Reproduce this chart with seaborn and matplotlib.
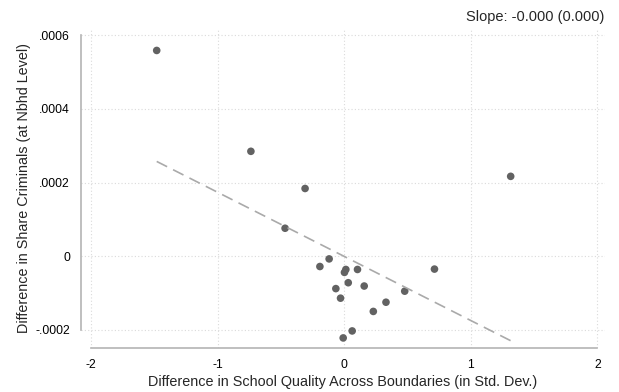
import matplotlib
matplotlib.use("Agg")
import matplotlib.pyplot as plt
from matplotlib.ticker import FuncFormatter
import numpy as np
import pandas as pd
import seaborn as sns

### data (binned differences across boundaries)
school_diff = [-1.481, -0.737, -0.309, -0.467, 1.315, -0.119, -0.192, 0.013,
               0.002, 0.105, 0.713, 0.032, -0.066, 0.158, -0.029, 0.478,
               0.330, 0.230, 0.063, -0.008]
crime_diff = [0.000559, 0.000285, 0.000184, 0.000076, 0.000217, -0.0000073,
              -0.000028, -0.000036, -0.000044, -0.000036, -0.000035, -0.000072,
              -0.000088, -0.000081, -0.000114, -0.000095, -0.000125, -0.000150,
              -0.000203, -0.000222]
x_ticks = [-2, -1, 0, 1, 2]
y_ticks = [-0.0002, 0, 0.0002, 0.0004, 0.0006]
slope_text = "Slope: -0.000 (0.000)"

df = pd.DataFrame({"school": school_diff, "crime": crime_diff})

sns.set_style("white")
plt.rcParams["font.family"] = ["Liberation Sans", "DejaVu Sans"]

fig = plt.figure(figsize=(6.19, 3.92), dpi=100)
ax = fig.add_axes([81 / 619, 1 - 347.5 / 392, (605 - 81) / 619, (347.5 - 28) / 392])

sns.regplot(data=df, x="school", y="crime", ax=ax, ci=None,
            scatter_kws=dict(s=30, color="#626262", edgecolors="none", alpha=1),
            line_kws=dict(color="#aaaaaa", lw=1.2, dashes=(7, 4)))

ax.set_xlim(-2.079, 2.06)
ax.set_ylim(-0.000248, 0.00062)
ax.set_xticks(x_ticks)
ax.set_yticks(y_ticks)

# stata style labels: plain hyphen, no leading zero
def yfmt(v, pos):
    if abs(v) < 1e-12:
        return "0"
    return f"{v:.4f}".replace("0.", ".")

ax.yaxis.set_major_formatter(FuncFormatter(yfmt))
ax.xaxis.set_major_formatter(FuncFormatter(lambda v, p: f"{v:.0f}"))
ax.grid(True, linestyle=(0, (1, 2)), color="#dadada", lw=0.8)

for side in ["top", "right"]:
    ax.spines[side].set_visible(False)
ax.spines["left"].set_bounds(-0.0002, 0.0006)
ax.spines["bottom"].set_bounds(-2, 2)
for side in ["left", "bottom"]:
    ax.spines[side].set_color("#b4b4b4")
    ax.spines[side].set_linewidth(1.2)

ax.tick_params(axis="both", direction="out", length=5, width=1, color="#b4b4b4",
               labelsize=8.7, labelcolor="black", pad=3)

ax.set_xlabel("Difference in School Quality Across Boundaries (in Std. Dev.)",
              fontsize=10.4, labelpad=3)
ax.set_ylabel("Difference in Share Criminals (at Nbhd Level)", fontsize=10.4, labelpad=3)

fig.text(604 / 619, 1 - 21 / 392, slope_text, ha="right", va="baseline", fontsize=10.5)

fig.savefig("out.png", dpi=100)
